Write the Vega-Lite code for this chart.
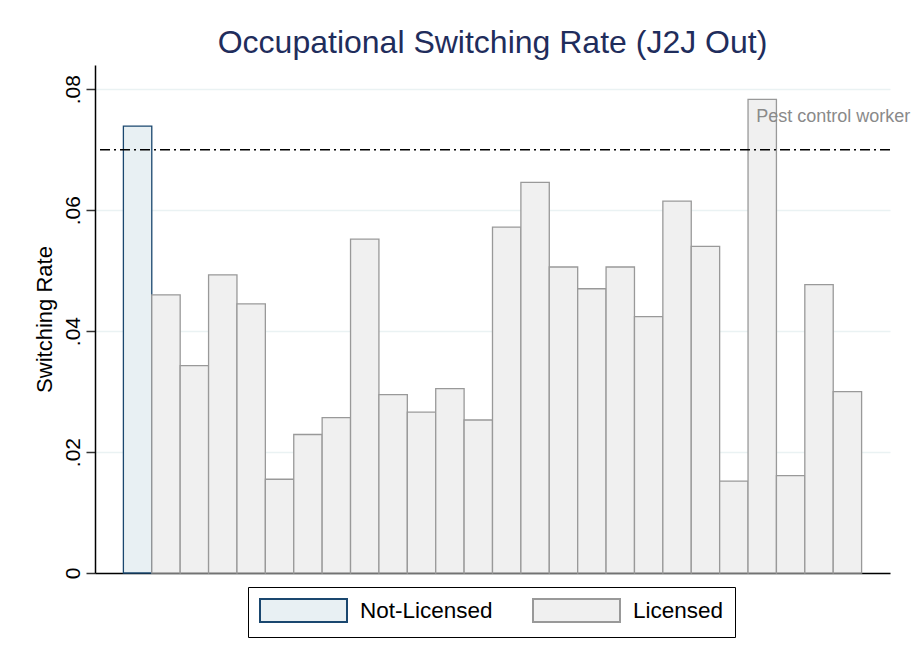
{
  "$schema": "https://vega.github.io/schema/vega-lite/v6.json",
  "width": 795,
  "height": 508,
  "autosize": {"type": "none"},
  "padding": {"left": 95, "top": 65, "right": 24, "bottom": 88},
  "background": "white",
  "config": {
    "view": {"stroke": null},
    "font": "Liberation Sans"
  },
  "title": {
    "text": "Occupational Switching Rate (J2J Out)",
    "fontSize": 32,
    "font": "Liberation Sans",
    "fontWeight": "normal",
    "color": "#1f2d5c",
    "anchor": "middle",
    "offset": 5
  },
  "data": {
    "values": [
      {"occ": 1, "group": "Not-Licensed", "rate": 0.0739, "label": null},
      {"occ": 2, "group": "Licensed", "rate": 0.0460, "label": null},
      {"occ": 3, "group": "Licensed", "rate": 0.0343, "label": null},
      {"occ": 4, "group": "Licensed", "rate": 0.0493, "label": null},
      {"occ": 5, "group": "Licensed", "rate": 0.0445, "label": null},
      {"occ": 6, "group": "Licensed", "rate": 0.0155, "label": null},
      {"occ": 7, "group": "Licensed", "rate": 0.0229, "label": null},
      {"occ": 8, "group": "Licensed", "rate": 0.0257, "label": null},
      {"occ": 9, "group": "Licensed", "rate": 0.0552, "label": null},
      {"occ": 10, "group": "Licensed", "rate": 0.0295, "label": null},
      {"occ": 11, "group": "Licensed", "rate": 0.0266, "label": null},
      {"occ": 12, "group": "Licensed", "rate": 0.0305, "label": null},
      {"occ": 13, "group": "Licensed", "rate": 0.0253, "label": null},
      {"occ": 14, "group": "Licensed", "rate": 0.0572, "label": null},
      {"occ": 15, "group": "Licensed", "rate": 0.0646, "label": null},
      {"occ": 16, "group": "Licensed", "rate": 0.0506, "label": null},
      {"occ": 17, "group": "Licensed", "rate": 0.0470, "label": null},
      {"occ": 18, "group": "Licensed", "rate": 0.0506, "label": null},
      {"occ": 19, "group": "Licensed", "rate": 0.0424, "label": null},
      {"occ": 20, "group": "Licensed", "rate": 0.0615, "label": null},
      {"occ": 21, "group": "Licensed", "rate": 0.0540, "label": null},
      {"occ": 22, "group": "Licensed", "rate": 0.0152, "label": null},
      {"occ": 23, "group": "Licensed", "rate": 0.0783, "label": "Pest control worker"},
      {"occ": 24, "group": "Licensed", "rate": 0.0161, "label": null},
      {"occ": 25, "group": "Licensed", "rate": 0.0477, "label": null},
      {"occ": 26, "group": "Licensed", "rate": 0.0300, "label": null}
    ]
  },
  "layer": [
    {
      "mark": {"type": "bar", "strokeWidth": 1.3, "opacity": 1},
      "encoding": {
        "x": {
          "field": "occ",
          "type": "ordinal",
          "sort": null,
          "scale": {"paddingInner": 0, "paddingOuter": 1},
          "axis": {"labels": false, "ticks": false, "title": null, "domainColor": "#000000", "domainWidth": 1.5, "grid": false}
        },
        "y": {
          "field": "rate",
          "type": "quantitative",
          "scale": {"domain": [0, 0.084], "nice": false, "zero": true},
          "axis": {
            "title": "Switching Rate",
            "titleFontSize": 22,
            "titleFontWeight": "normal",
            "titleColor": "#000000",
            "titleAngle": -90,
            "titleAlign": "center",
            "titleBaseline": "middle",
            "titleX": -51,
            "titleY": 254,
            "values": [0, 0.02, 0.04, 0.06, 0.08],
            "labelExpr": "datum.value == 0 ? '0' : replace(format(datum.value, '.2f'), '0.', '.')",
            "labelAngle": -90,
            "labelAlign": "center",
            "labelBaseline": "bottom",
            "labelFontSize": 21,
            "labelColor": "#000000",
            "labelPadding": 3,
            "tickSize": 9,
            "tickWidth": 1.5,
            "tickColor": "#333333",
            "domainColor": "#000000",
            "domainWidth": 1.5,
            "grid": true,
            "gridColor": "#eaf2f3",
            "gridWidth": 1.5
          }
        },
        "fill": {
          "field": "group",
          "type": "nominal",
          "scale": {"domain": ["Not-Licensed", "Licensed"], "range": ["#e8f0f3", "#f0f0f0"]},
          "legend": {
            "title": null,
            "orient": "none",
            "legendX": 153,
            "legendY": 522,
            "direction": "horizontal",
            "symbolType": "M-1,-1H6.565V1H-1Z",
            "symbolSize": 529,
            "symbolStrokeWidth": 2,
            "symbolOpacity": 1,
            "labelFontSize": 22.5,
            "labelColor": "#000000",
            "labelOffset": 76,
            "columnPadding": 36,
            "padding": 11,
            "strokeColor": "#000000",
            "fillColor": "#ffffff"
          }
        },
        "stroke": {
          "field": "group",
          "type": "nominal",
          "scale": {"domain": ["Not-Licensed", "Licensed"], "range": ["#1a476f", "#999999"]}
        }
      }
    },
    {
      "data": {"values": [{"ref": 0.07}]},
      "mark": {"type": "rule", "color": "#000000", "strokeWidth": 1.5, "strokeDash": [10, 4, 2, 4]},
      "encoding": {
        "y": {"field": "ref", "type": "quantitative"}
      }
    },
    {
      "transform": [{"filter": "datum.label != null"}],
      "mark": {"type": "text", "align": "left", "baseline": "alphabetic", "dx": -6, "dy": 23, "fontSize": 18, "color": "#8a8a8a"},
      "encoding": {
        "x": {"field": "occ", "type": "ordinal", "sort": null},
        "y": {"field": "rate", "type": "quantitative"},
        "text": {"field": "label"}
      }
    }
  ]
}
